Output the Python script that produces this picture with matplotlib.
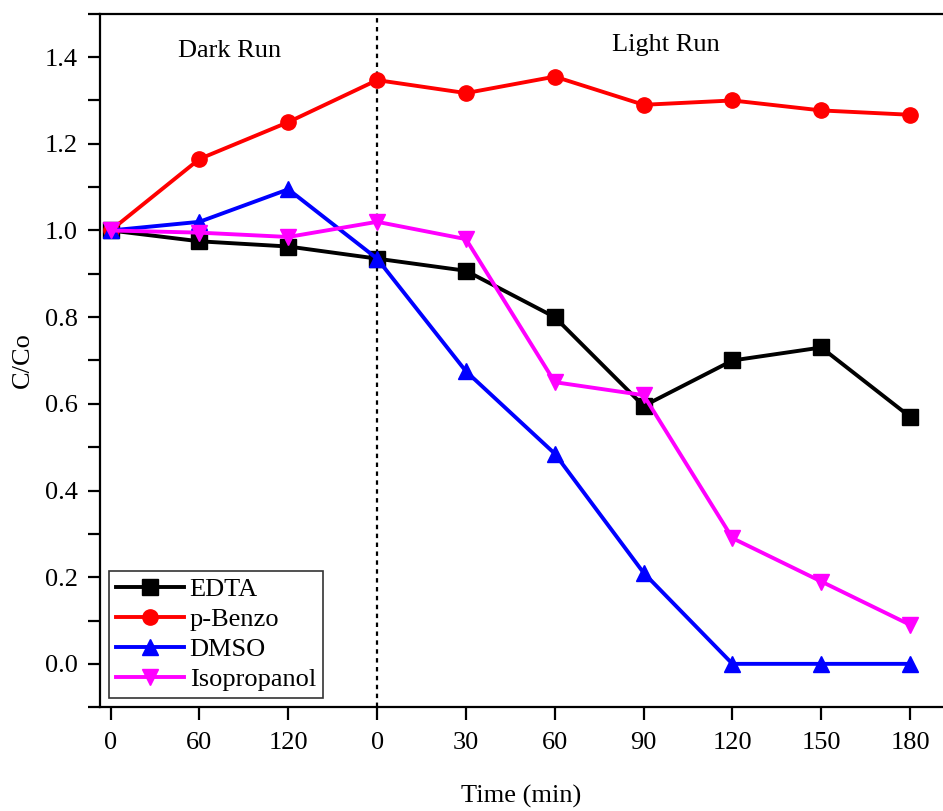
import matplotlib
matplotlib.use("Agg")
import matplotlib.pyplot as plt
from matplotlib.ticker import MultipleLocator

plt.rcParams["font.family"] = ["Liberation Serif", "DejaVu Serif"]

time_labels = ["0", "60", "120", "0", "30", "60", "90", "120", "150", "180"]
edta = [1.0, 0.975, 0.963, 0.935, 0.907, 0.80, 0.595, 0.70, 0.73, 0.57]
p_benzo = [1.0, 1.165, 1.25, 1.347, 1.317, 1.355, 1.29, 1.30, 1.277, 1.267]
dmso = [1.0, 1.02, 1.095, 0.935, 0.675, 0.485, 0.21, 0.0, 0.0, 0.0]
isopropanol = [1.0, 0.995, 0.985, 1.02, 0.98, 0.65, 0.62, 0.29, 0.19, 0.09]

x = list(range(len(time_labels)))

fig = plt.figure(figsize=(9.43, 8.11), dpi=100)
ax = fig.add_axes([0.106, 0.128, 0.894, 0.855])

series = [
    ("EDTA", edta, "#000000", "s"),
    ("p-Benzo", p_benzo, "#FF0000", "o"),
    ("DMSO", dmso, "#0000FF", "^"),
    ("Isopropanol", isopropanol, "#FF00FF", "v"),
]
for name, values, color, marker in series:
    ax.plot(x, values, color=color, marker=marker, markersize=11,
            linewidth=2.8, label=name)

ax.axvline(3, color="black", linestyle=(0, (2, 2)), linewidth=1.6, zorder=0)

ax.text(1.34, 1.413, "Dark Run", fontsize=19, ha="center", va="center")
ax.text(6.25, 1.427, "Light Run", fontsize=19, ha="center", va="center")

ax.set_xlim(-0.12, 9.37)
ax.set_ylim(-0.1, 1.5)
ax.set_xticks(x)
ax.set_xticklabels(time_labels)
ax.yaxis.set_major_locator(MultipleLocator(0.2))
ax.yaxis.set_minor_locator(MultipleLocator(0.1))
ax.yaxis.set_major_formatter(plt.FuncFormatter(lambda v, _: f"{v:.1f}"))

ax.tick_params(axis="both", which="major", direction="out", length=9,
               width=1.6, labelsize=19)
ax.tick_params(axis="x", which="major", pad=9)
ax.tick_params(axis="y", which="major", pad=7)
ax.tick_params(axis="y", which="minor", direction="out", length=9, width=1.6)
for side in ("left", "bottom", "top"):
    ax.spines[side].set_linewidth(1.6)
ax.spines["right"].set_visible(False)

ax.set_xlabel("Time (min)", fontsize=19, labelpad=22)
ax.set_ylabel("C/Co", fontsize=19, labelpad=8)

legend = ax.legend(loc="lower left", bbox_to_anchor=(0.0, 0.0),
                   fontsize=19, frameon=True, fancybox=False,
                   handlelength=2.6, handletextpad=0.2, labelspacing=0.25,
                   borderpad=0.25, borderaxespad=0.35)
legend.get_frame().set_edgecolor("black")
legend.get_frame().set_linewidth(1.2)

fig.savefig("out.png", dpi=100, facecolor="white")
